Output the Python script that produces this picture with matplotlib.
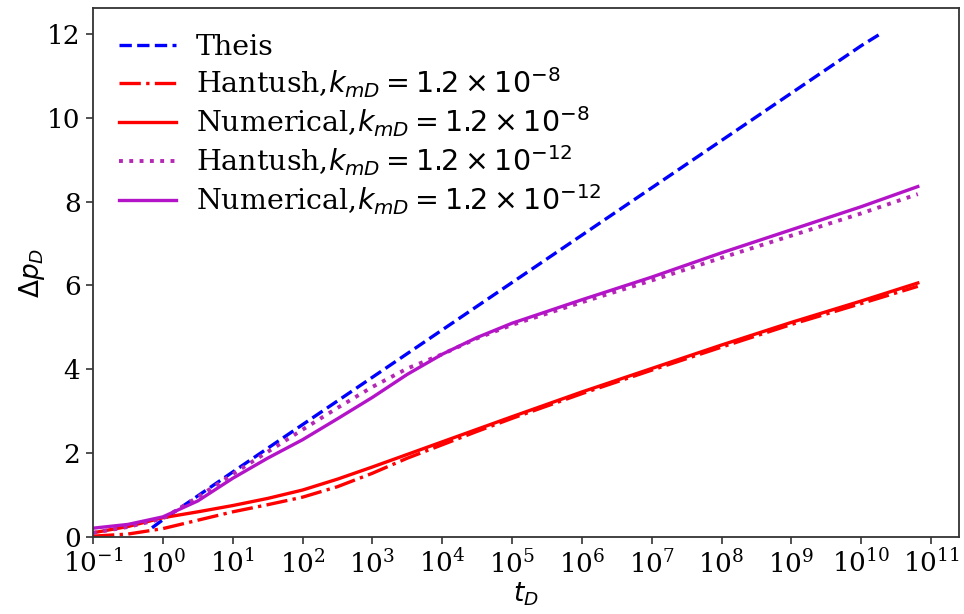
import numpy as np
import matplotlib
matplotlib.use("Agg")
import matplotlib.pyplot as plt
from matplotlib.ticker import NullLocator

plt.rcParams['font.family'] = 'serif'
plt.rcParams['font.serif'] = ['DejaVu Serif']
plt.rcParams['mathtext.fontset'] = 'dejavusans'

# Theis solution
t_theis = [0.7, 1, 1e1, 1e2, 1e3, 1e4, 1e5, 1e6, 1e7, 1e8, 1e9, 1e10, 1.95e10]
dp_theis = [0.22, 0.41, 1.55, 2.68, 3.81, 4.94, 6.07, 7.20, 8.33, 9.46, 10.59, 11.72, 12.02]

# common time grid for the leaky curves
t_grid = [1e-1, 10**-0.5, 1e0, 10**0.5, 1e1, 10**1.5, 1e2, 10**2.5, 1e3, 10**3.5,
          1e4, 10**4.5, 1e5, 1e6, 1e7, 1e8, 1e9, 1e10, 10**10.81]

dp_hantush_8 = [0.02, 0.07, 0.20, 0.40, 0.60, 0.77, 0.95, 1.20, 1.52, 1.88,
                2.20, 2.52, 2.83, 3.42, 3.98, 4.53, 5.07, 5.57, 5.98]
dp_numerical_8 = [0.10, 0.25, 0.46, 0.60, 0.75, 0.92, 1.12, 1.38, 1.67, 1.97,
                  2.27, 2.57, 2.87, 3.46, 4.02, 4.58, 5.12, 5.63, 6.06]
dp_hantush_12 = [0.10, 0.24, 0.44, 0.95, 1.50, 2.03, 2.56, 3.08, 3.58, 4.02,
                 4.36, 4.74, 5.06, 5.60, 6.12, 6.66, 7.19, 7.72, 8.18]
dp_numerical_12 = [0.21, 0.30, 0.48, 0.86, 1.40, 1.88, 2.32, 2.82, 3.33, 3.88,
                   4.36, 4.76, 5.10, 5.66, 6.20, 6.78, 7.33, 7.88, 8.36]

labels = ['Theis',
          r'Hantush,$k_{mD}=1.2\times10^{-8}$',
          r'Numerical,$k_{mD}=1.2\times10^{-8}$',
          r'Hantush,$k_{mD}=1.2\times10^{-12}$',
          r'Numerical,$k_{mD}=1.2\times10^{-12}$']

fig = plt.figure(figsize=(9.64, 6.14), dpi=100)
ax = fig.add_axes([93/964, 1-537/614, (959-93)/964, (537-8)/614])

lw = 2.4
ax.plot(t_theis, dp_theis, '--', color='#0000ff', lw=lw, label=labels[0])
ax.plot(t_grid, dp_hantush_8, '-.', color='#ff0000', lw=lw, label=labels[1])
ax.plot(t_grid, dp_numerical_8, '-', color='#ff0000', lw=lw, label=labels[2])
ax.plot(t_grid, dp_hantush_12, ':', color='#b428b4', lw=lw + 0.4, label=labels[3])
ax.plot(t_grid, dp_numerical_12, '-', color='#b414c8', lw=lw, label=labels[4])

ax.set_xscale('log')
ax.set_xlim(1e-1, 10**11.4)
ax.set_ylim(0, 12.62)
ax.set_xticks([10.0**k for k in range(-1, 12)])
ax.xaxis.set_minor_locator(NullLocator())
ax.set_yticks([0, 2, 4, 6, 8, 10, 12])

ax.tick_params(axis='both', which='major', labelsize=19, length=5, width=1.2,
               color='#333333', pad=4)
for sp in ax.spines.values():
    sp.set_color('#333333')
    sp.set_linewidth(1.3)

ax.set_xlabel(r'$t_D$', fontsize=19, labelpad=2)
ax.set_ylabel(r'$\Delta p_D$', fontsize=19, labelpad=0)

leg = ax.legend(loc='upper left', frameon=False, fontsize=20.5,
                handlelength=2.0, handletextpad=0.7, labelspacing=0.15)

fig.savefig('out.png', dpi=100)
